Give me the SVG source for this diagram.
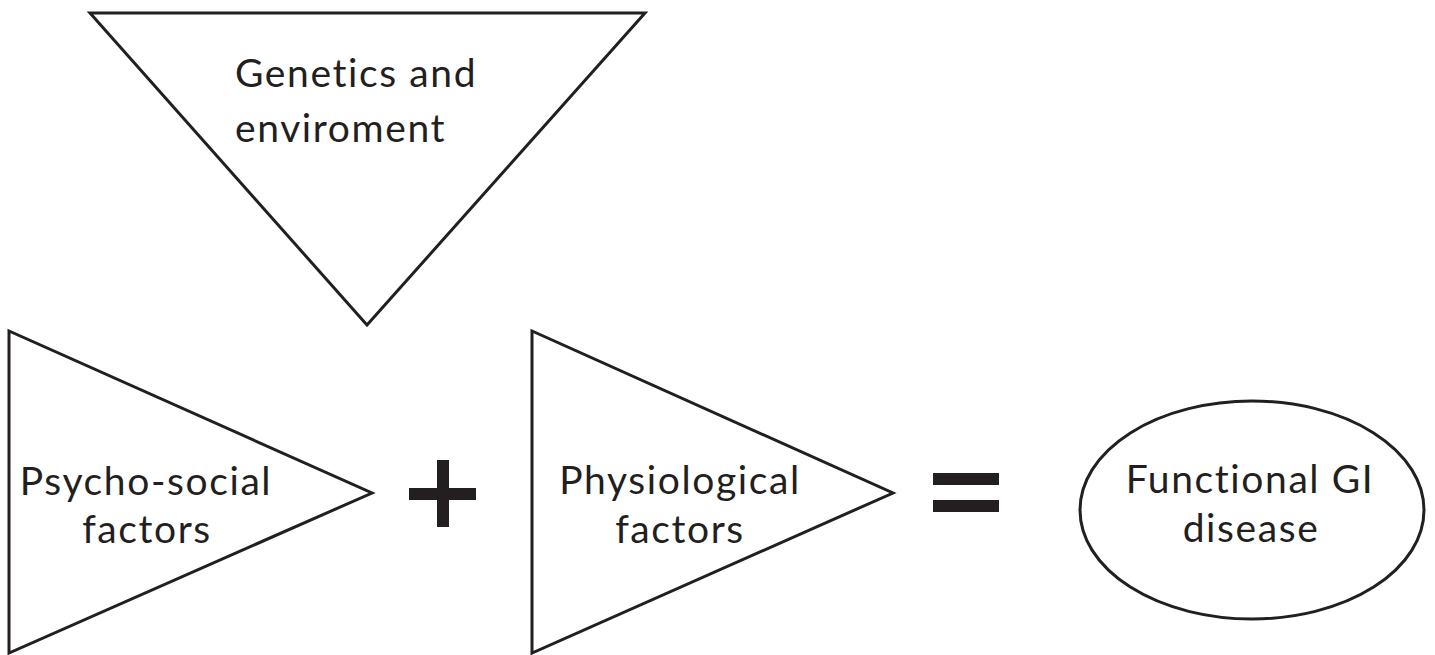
<svg xmlns="http://www.w3.org/2000/svg" width="1435" height="655" viewBox="0 0 1435 655">
<style>
.shape{fill:#fff;stroke:#231f20;stroke-width:3}
.t{font-family:Lato,"Open Sans",sans-serif;font-size:39px;letter-spacing:1.6px;fill:#231f20}
.c{text-anchor:middle}
.op{fill:#231f20}
</style>
<rect width="1435" height="655" fill="#fff"/>
<g id="genetics">
<polygon class="shape" points="90,13 645,13 367,325"/>
<text class="t" x="235" y="87">Genetics and</text>
<text class="t" x="235" y="142">enviroment</text>
</g>
<g id="psychosocial">
<polygon class="shape" points="9,331 9,653 372,493"/>
<text class="t c" x="146" y="495">Psycho-social</text>
<text class="t c" x="147" y="543">factors</text>
</g>
<g id="physiological">
<polygon class="shape" points="532,331 532,653 893,493"/>
<text class="t c" x="680" y="494">Physiological</text>
<text class="t c" x="680" y="543">factors</text>
</g>
<g id="disease">
<ellipse class="shape" cx="1252" cy="510" rx="172" ry="109"/>
<text class="t c" x="1250" y="493">Functional GI</text>
<text class="t c" x="1251" y="542">disease</text>
</g>
<g id="connectors">
<rect class="op" x="437" y="460" width="12" height="67"/>
<rect class="op" x="409" y="488" width="67" height="12"/>
<rect class="op" x="933" y="473" width="66" height="12"/>
<rect class="op" x="933" y="500" width="66" height="12"/>
</g>
</svg>
